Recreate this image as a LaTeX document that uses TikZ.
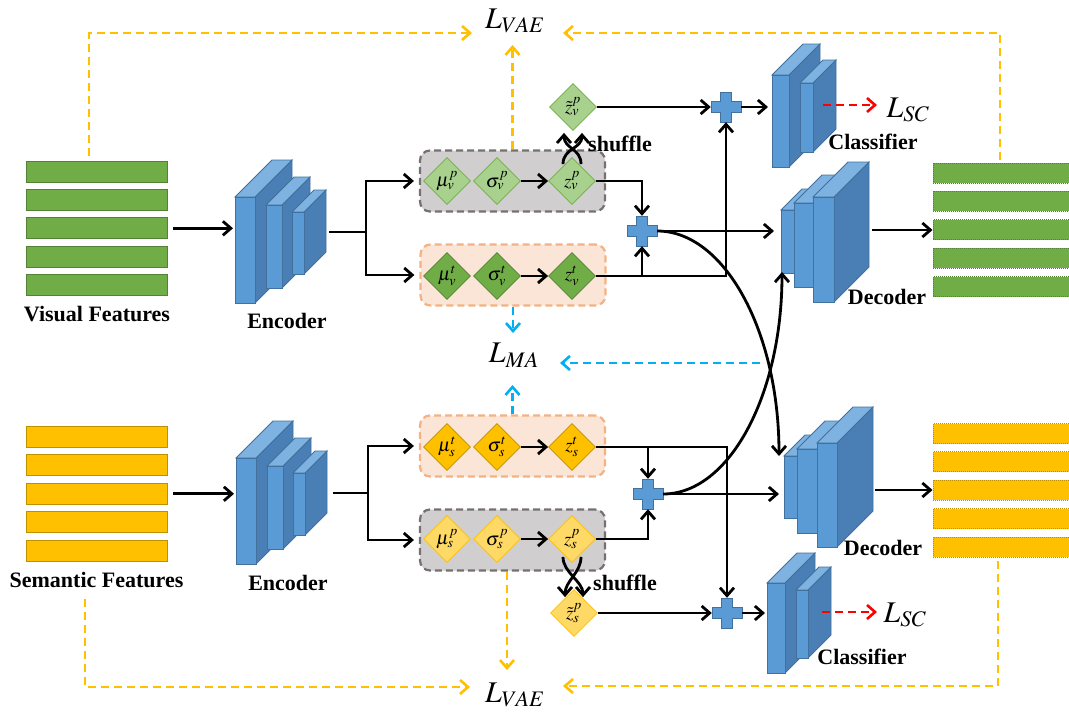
\documentclass[tikz,border=0pt]{standalone}
\usepackage{mathptmx}
\usepackage{fontspec}
\setmainfont{Liberation Serif}
\usepackage{tikz}
\usetikzlibrary{arrows.meta, shapes.geometric, calc}

\definecolor{vgreen}{HTML}{70AD47}
\definecolor{vgreendk}{HTML}{548235}
\definecolor{vgreenlt}{HTML}{A9D18E}
\definecolor{syellow}{HTML}{FFC000}
\definecolor{syellowdk}{HTML}{BF9000}
\definecolor{syellowlt}{HTML}{FFD966}
\definecolor{netfront}{HTML}{5B9BD5}
\definecolor{nettop}{HTML}{7EB2E0}
\definecolor{netside}{HTML}{4A7FB5}
\definecolor{netedge}{HTML}{41719C}
\definecolor{privfill}{HTML}{D0CECE}
\definecolor{privedge}{HTML}{767171}
\definecolor{sharefill}{HTML}{FBE5D6}
\definecolor{shareedge}{HTML}{F4B183}
\definecolor{mablue}{HTML}{00B0F0}

\tikzstyle{lbl}=[font=\fontsize{22}{26}\selectfont\bfseries]
\tikzstyle{loss}=[inner sep=0pt, font=\fontsize{30}{34}\selectfont]
\tikzstyle{fbar}=[rectangle, inner sep=0pt, minimum width=141pt, minimum height=21pt, line width=1pt]
\tikzstyle{obar}=[rectangle, inner sep=0pt, minimum width=139pt, minimum height=20pt, line width=1pt, densely dotted]
\tikzstyle{dmd}=[diamond, draw, inner sep=0pt, minimum size=47pt, line width=0.8pt, font=\fontsize{19}{22}\selectfont]
\tikzstyle{dvp}=[dmd, fill=vgreenlt, draw=vgreen]
\tikzstyle{dvt}=[dmd, fill=vgreen, draw=vgreendk]
\tikzstyle{dst}=[dmd, fill=syellow, draw=syellowdk]
\tikzstyle{dsp}=[dmd, fill=syellowlt, draw=syellow]
\tikzstyle{grp}=[rectangle, rounded corners=10pt, dash pattern=on 7pt off 4pt, line width=2.2pt, minimum width=185pt, minimum height=61pt]
\tikzstyle{wire}=[line width=2.8pt]
\tikzstyle{conn}=[line width=2.8pt, ->]
\tikzstyle{lossline}=[line width=2.6pt, dash pattern=on 8pt off 5pt, ->]
\tikzset{>={Straight Barb[length=8pt, width=14pt]}}

% 3d block: x, y of the front top-left corner, width, height, depth
\newcommand{\slab}[5]{%
  \filldraw[draw=netedge, fill=netside, line width=0.8pt] (#1+#3,#2) -- ++(#5,-#5) -- ++(0,#4) -- ++(-#5,#5) -- cycle;
  \filldraw[draw=netedge, fill=nettop, line width=0.8pt] (#1,#2) -- ++(#5,-#5) -- ++(#3,0) -- ++(-#5,#5) -- cycle;
  \filldraw[draw=netedge, fill=netfront, line width=0.8pt] (#1,#2) rectangle ++(#3,#4);
}
% plus sign as a named node
\newcommand{\plusat}[3]{%
  \node[inner sep=0pt, minimum size=30pt] (#1) at (#2,#3) {};
  \filldraw[draw=netedge, fill=netfront, line width=0.8pt, shift={(#2,#3)}]
    (-5.5,-15) -- (5.5,-15) -- (5.5,-5.5) -- (15,-5.5) -- (15,5.5) -- (5.5,5.5)
    -- (5.5,15) -- (-5.5,15) -- (-5.5,5.5) -- (-15,5.5) -- (-15,-5.5) -- (-5.5,-5.5) -- cycle;
}

\begin{document}
\begin{tikzpicture}[x=1pt, y=-1pt]
\useasboundingbox (0,0) rectangle (1069,715);
% feature bars
\foreach \i in {0,...,4} {
  \node[fbar, fill=vgreen, draw=vgreendk] (vf\i) at (96.5,171.5+28.4*\i) {};
  \node[fbar, fill=syellow, draw=syellowdk] (sf\i) at (97,437+28.4*\i) {};
  \node[obar, fill=vgreen, draw=vgreendk] (vo\i) at (1002.5,173+28.4*\i) {};
  \node[obar, fill=syellow, draw=syellowdk] (so\i) at (1002.5,433.5+28.4*\i) {};
}
\node[lbl] (vlbl) at (97,314) {Visual Features};
\node[lbl] (slbl) at (96.5,580) {Semantic Features};

% encoders
\slab{235}{197}{20}{106}{37}
\slab{266}{205}{16}{83}{28}
\slab{292}{212}{12}{62}{22}
\slab{236}{458}{20}{106}{37}
\slab{267}{466}{16}{83}{28}
\slab{293}{473}{12}{62}{22}
\coordinate (encV-in) at (233,232);
\coordinate (encV-out) at (329,232);
\coordinate (encS-in) at (234,493);
\coordinate (encS-out) at (333,493);
\coordinate (splitV) at (366,232);
\coordinate (splitS) at (368,493);
\node[lbl] (encVlbl) at (287,321) {Encoder};
\node[lbl] (encSlbl) at (288,583) {Encoder};

% latent groups
\node[grp, draw=privedge, fill=privfill] (boxVP) at (512.5,181) {};
\node[grp, draw=shareedge, fill=sharefill] (boxVT) at (513,275) {};
\node[grp, draw=shareedge, fill=sharefill] (boxST) at (512.5,446) {};
\node[grp, draw=privedge, fill=privfill] (boxSP) at (512.5,540) {};

\node[dvp] (mvp) at (447,181) {$\mu_v^p$};
\node[dvp] (svp) at (497,181) {$\sigma_v^p$};
\node[dvp] (zvp) at (572,181) {$z_v^p$};
\node[dvp] (zvpt) at (573,107) {$\tilde{z}_v^p$};
\node[dvt] (mvt) at (447,276) {$\mu_v^t$};
\node[dvt] (svt) at (497,276) {$\sigma_v^t$};
\node[dvt] (zvt) at (572,276) {$z_v^t$};
\node[dst] (mst) at (447,447) {$\mu_s^t$};
\node[dst] (sst) at (497,447) {$\sigma_s^t$};
\node[dst] (zst) at (572,447) {$z_s^t$};
\node[dsp] (msp) at (447,539) {$\mu_s^p$};
\node[dsp] (ssp) at (497,539) {$\sigma_s^p$};
\node[dsp] (zsp) at (572,539) {$z_s^p$};
\node[dsp] (zspt) at (574,613) {$\tilde{z}_s^p$};

\node[lbl] (shufV) at (620,144) {shuffle};
\node[lbl] (shufS) at (625,583) {shuffle};

% plus nodes
\plusat{plusC1}{726}{107}
\plusat{plusD1}{642}{231}
\plusat{plusD2}{648}{494}
\plusat{plusC2}{727}{613}

% decoders
\slab{781}{210}{13}{63}{21}
\slab{794}{203}{19}{84}{28}
\slab{813}{197}{21}{105}{35}
\slab{784}{456}{13}{62}{21}
\slab{797}{449}{20}{84}{28}
\slab{817}{443}{20}{104}{36}
\coordinate (decV-in) at (774,231);
\coordinate (decV-bot) at (782,272);
\coordinate (decV-out) at (872,230);
\coordinate (decS-in) at (779,494);
\coordinate (decS-top) at (779,456);
\coordinate (decS-out) at (875,490);
\node[lbl] (decVlbl) at (887,297) {Decoder};
\node[lbl] (decSlbl) at (883,548) {Decoder};

% classifiers
\slab{772}{75}{17}{92}{31}
\slab{800}{83}{13}{69}{23}
\slab{767}{583}{18}{90}{30}
\slab{796}{590}{12}{68}{23}
\coordinate (clsV-in) at (768,107);
\coordinate (clsV-out) at (823,105);
\coordinate (clsS-in) at (765,613);
\coordinate (clsS-out) at (822,612);
\node[lbl] (clsVlbl) at (873,142) {Classifier};
\node[lbl] (clsSlbl) at (862,657) {Classifier};

% losses
\node[loss] (LVAEt) at (515,21) {$L_{VAE}$};
\node[loss] (LVAEb) at (515,695) {$L_{VAE}$};
\node[loss] (LMA) at (514,355) {$L_{MA}$};
\node[loss] (LSCt) at (908,110) {$L_{SC}$};
\node[loss] (LSCb) at (905,615) {$L_{SC}$};
\coordinate (vaeT-l) at (472,33);
\coordinate (vaeT-r) at (563,33);
\coordinate (vaeT-up) at (512.5,45);
\coordinate (vaeB-l) at (470,687);
\coordinate (vaeB-r) at (563,686);
\coordinate (vaeB-dn) at (507,670);
\coordinate (maT) at (513,333);
\coordinate (maB) at (512.5,385);
\coordinate (maR) at (760,363);
\coordinate (maL) at (560,363);
\coordinate (scV-tip) at (877,105);
\coordinate (scS-tip) at (877,612);

% encoder connections
\draw[conn, shorten <=5pt] (vf2.east) -- (vf2.east -| encV-in);
\draw[conn, shorten <=5pt] (sf2.east) -- (sf2.east -| encS-in);
\draw[conn] (encV-out) -- (splitV) |- ([xshift=-5pt]boxVP.west);
\draw[conn] (splitV) |- ([xshift=-5pt]boxVT.west);
\draw[conn] (encS-out) -- (splitS) |- ([xshift=-5pt]boxST.west);
\draw[conn] (splitS) |- ([xshift=-5pt]boxSP.west);

% inside the groups
\draw[conn] (svp) -- (zvp);
\draw[conn] (svt) -- (zvt);
\draw[conn] (sst) -- (zst);
\draw[conn] (ssp) -- (zsp);

% shuffle
\draw[conn] ([xshift=-9pt,yshift=-7pt]zvp.north) .. controls +(0,-16) and +(0,16) .. ([xshift=9pt,yshift=-2pt]zvpt.south);
\draw[conn] ([xshift=9pt,yshift=-7pt]zvp.north) .. controls +(0,-16) and +(0,16) .. ([xshift=-9pt,yshift=-2pt]zvpt.south);
\draw[conn] ([xshift=-9pt,yshift=6pt]zsp.south) .. controls +(0,16) and +(0,-16) .. ([xshift=9pt,yshift=-8pt]zspt.north);
\draw[conn] ([xshift=9pt,yshift=6pt]zsp.south) .. controls +(0,16) and +(0,-16) .. ([xshift=-9pt,yshift=-8pt]zspt.north);

% to the plus nodes
\draw[conn] (zvpt) -- (plusC1);
\draw[conn] (zvp.east) -| (plusD1.north);
\draw[conn] (zvt.east) -| (plusC1.south);
\draw[conn] (zvt.east -| plusD1) -- (plusD1.south);
\draw[conn] (zst.east) -| (plusC2.north);
\draw[conn] (zst.east -| plusD2) -- (plusD2.north);
\draw[conn] (zsp.east) -| (plusD2.south);
\draw[conn] (zspt) -- (plusC2);

% to decoders and classifiers
\draw[conn] (plusC1) -- (clsV-in);
\draw[conn] (plusC2) -- (clsS-in);
\draw[conn] (plusD1) -- (decV-in);
\draw[conn] (plusD2) -- (decS-in);
\draw[conn] (plusD1.east) .. controls +(67,0) and +(0,-125) .. (decS-top);
\draw[conn] (plusD2.east) .. controls +(66,0) and +(0,123) .. (decV-bot);
\draw[conn] (decV-out) -- (decV-out -| vo2.west);
\draw[conn] (decS-out) -- (decS-out -| so2.west);

% loss arrows
\draw[lossline, syellow, shorten <=5pt] ([xshift=-7.5pt]vf0.north) |- (vaeT-l);
\draw[lossline, syellow, shorten <=3pt] ([xshift=-2.5pt]vo0.north) |- (vaeT-r);
\draw[lossline, syellow] (boxVP.north) -- (vaeT-up);
\draw[lossline, syellow, shorten <=8pt] ([xshift=-11.5pt]slbl.south) |- (vaeB-l);
\draw[lossline, syellow, shorten <=3pt] ([xshift=-4.5pt]so4.south) |- (vaeB-r);
\draw[lossline, syellow] ([xshift=-5.5pt]boxSP.south) -- (vaeB-dn);
\draw[lossline, mablue] (boxVT.south) -- (maT);
\draw[lossline, mablue] (boxST.north) -- (maB);
\draw[lossline, mablue] (maR) -- (maL);
\draw[lossline, red] (clsV-out) -- (scV-tip);
\draw[lossline, red] (clsS-out) -- (scS-tip);
\end{tikzpicture}
\end{document}
